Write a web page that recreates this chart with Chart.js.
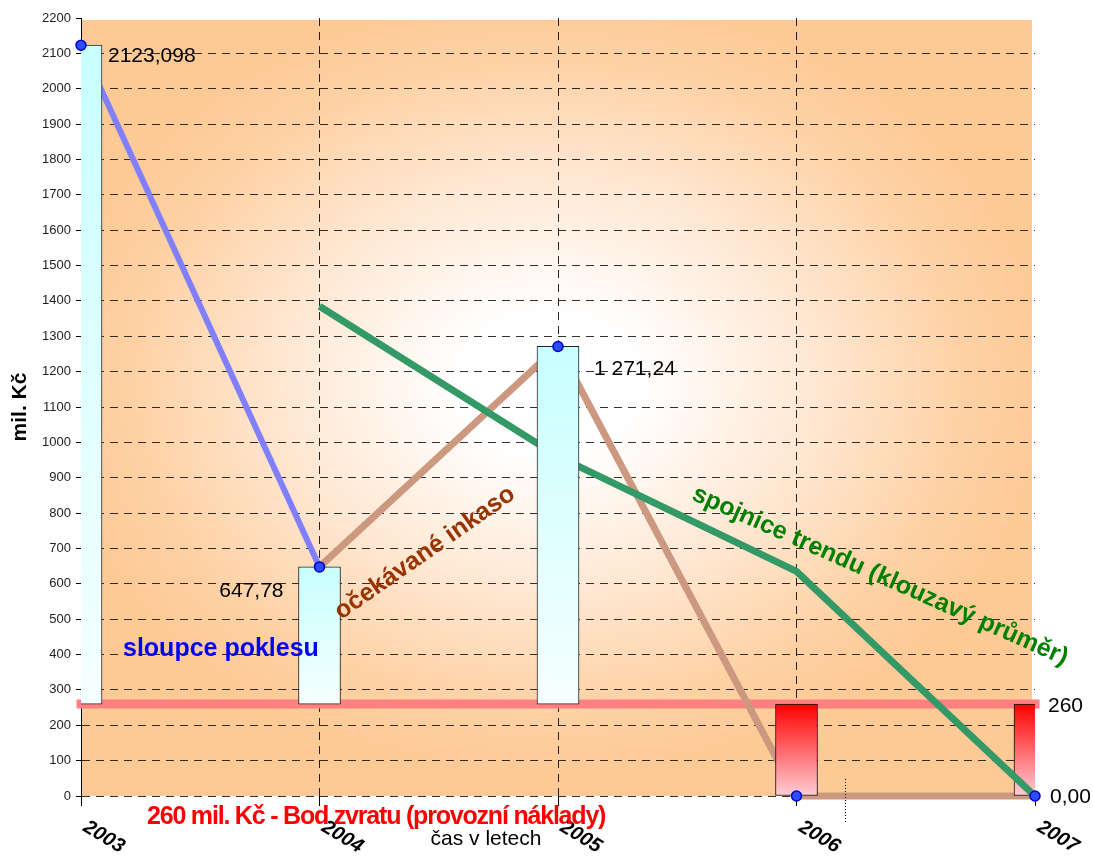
<!DOCTYPE html>
<html>
<head>
<meta charset="utf-8">
<title>Bod zvratu</title>
<script src="https://cdn.jsdelivr.net/npm/chart.js@4.4.1/dist/chart.umd.min.js"></script>
<style>
  html, body { margin: 0; padding: 0; background: #ffffff; }
  #wrap { width: 1094px; height: 856px; }
</style>
</head>
<body>
<div id="wrap"><canvas id="c" width="1094" height="856"></canvas></div>
<script>
// Years on the time axis
const years = ['2003', '2004', '2005', '2006', '2007'];

// Decline columns (from the break-even level up to the value), mil. Kč
const declineTop = [2123.098, 647.78, 1271.24, null, null];
// Break-even / operating costs level, mil. Kč
const breakEven = 260;
// Columns below the break-even level (2006, 2007)
const belowTop = [null, null, null, 260, 260];
const belowBase = 0;

// Lines
const declineLine = [2123.098, 647.78, null, null, null];      // sloupce poklesu
const expectedIncome = [null, 647.78, 1271.24, 0, 0];          // očekávané inkaso
const movingAverage = [null, 1385, 960, 635, 0];               // spojnice trendu
const markerValues = [2123.098, 647.78, 1271.24, 0, 0];        // marked points

// Y axis range
const yMin = 0, yMax = 2200, yStep = 100;

// Number format per marked point: decimals and thousands grouping
const markerFormats = [
  { dec: 3, group: false },
  { dec: 2, group: false },
  { dec: 2, group: true },
  null,
  { dec: 2, group: false }
];

function formatCz(v, dec, group) {
  const parts = v.toFixed(dec).split('.');
  let int = parts[0];
  if (group) int = int.replace(/\B(?=(\d{3})+(?!\d))/g, ' ');
  return parts.length > 1 ? int + ',' + parts[1] : int;
}

const FONT = 'Arial, "Liberation Sans", sans-serif';

function columnGradient(ctx, topColor, bottomColor) {
  const chart = ctx.chart;
  if (!chart.chartArea || !Array.isArray(ctx.raw)) return topColor;
  const y = chart.scales.y;
  const top = y.getPixelForValue(Math.max(ctx.raw[0], ctx.raw[1]));
  const bottom = y.getPixelForValue(Math.min(ctx.raw[0], ctx.raw[1]));
  const g = chart.ctx.createLinearGradient(0, top, 0, bottom);
  g.addColorStop(0, topColor);
  g.addColorStop(1, bottomColor);
  return g;
}

// Plot-area background: pale centre fading to orange
const plotBackground = {
  id: 'plotBackground',
  beforeDraw(chart) {
    const { ctx, chartArea: a } = chart;
    const cx = a.left + (a.right - a.left) * 0.49;
    const cy = a.top + (a.bottom - a.top) * 0.47;
    const rx = 500, ry = 390;
    ctx.save();
    ctx.beginPath();
    ctx.rect(a.left, a.top + 2, a.right - a.left - 3, a.bottom - a.top - 2);
    ctx.clip();
    ctx.translate(cx, cy);
    ctx.scale(1, ry / rx);
    const g = ctx.createRadialGradient(0, 0, 0, 0, 0, rx);
    g.addColorStop(0, '#ffffff');
    g.addColorStop(0.18, '#ffffff');
    g.addColorStop(0.55, '#ffe6d0');
    g.addColorStop(0.85, '#fed0a2');
    g.addColorStop(1, '#fdca96');
    ctx.fillStyle = g;
    ctx.fillRect(-cx, -cy * rx / ry, chart.width, chart.height * rx / ry);
    ctx.restore();
  }
};

// Texts: value labels, axis titles, year labels and captions
const chartTexts = {
  id: 'chartTexts',
  afterDatasetsDraw(chart) {
    const { ctx, chartArea: a, scales } = chart;
    const markerMeta = chart.getDatasetMeta(chart.data.datasets.findIndex(d => d.label === 'body'));
    ctx.save();

    // value labels at the marked points
    ctx.fillStyle = '#000';
    ctx.font = '21px ' + FONT;
    ctx.textBaseline = 'middle';
    const offs = [[27, 11, 'left'], [-36, 24, 'right'], [36, 23, 'left'], null, [15, 1, 'left']];
    markerValues.forEach((v, i) => {
      const f = markerFormats[i];
      if (!f) return;
      const p = markerMeta.data[i];
      ctx.textAlign = offs[i][2];
      ctx.fillText(formatCz(v, f.dec, f.group), p.x + offs[i][0], p.y + offs[i][1]);
    });
    // break-even value at the end of its line
    ctx.textAlign = 'left';
    ctx.fillText(String(breakEven), a.right + 13, scales.y.getPixelForValue(breakEven) + 2);

    // y axis title
    ctx.save();
    ctx.translate(20, (a.top + a.bottom) / 2);
    ctx.rotate(-Math.PI / 2);
    ctx.font = 'bold 21px ' + FONT;
    ctx.textAlign = 'center';
    ctx.textBaseline = 'middle';
    ctx.fillText('mil. Kč', 0, 0);
    ctx.restore();

    // year labels, slanted
    ctx.font = 'italic bold 20px ' + FONT;
    ctx.textAlign = 'left';
    ctx.textBaseline = 'top';
    years.forEach((yr, i) => {
      const x = scales.x.getPixelForValue(i);
      ctx.save();
      ctx.translate(x + 9, a.bottom + 21);
      ctx.rotate(31 * Math.PI / 180);
      ctx.fillText(yr, 0, 0);
      ctx.restore();
    });

    // x axis title
    ctx.font = '21px ' + FONT;
    ctx.textAlign = 'center';
    ctx.textBaseline = 'middle';
    ctx.fillStyle = '#000';
    ctx.fillText('čas v letech', 486, 839);

    // break-even caption
    ctx.font = 'bold 25px ' + FONT;
    ctx.fillStyle = '#ff0000';
    ctx.textAlign = 'left';
    if ('letterSpacing' in ctx) ctx.letterSpacing = '-1.2px';
    ctx.fillText('260 mil. Kč - Bod zvratu (provozní náklady)', 147, 817);
    if ('letterSpacing' in ctx) ctx.letterSpacing = '0px';

    // series captions
    ctx.fillStyle = '#0000ff';
    ctx.fillText('sloupce poklesu', 123, 649);

    ctx.save();
    ctx.translate(425, 553);
    ctx.rotate(-35 * Math.PI / 180);
    ctx.fillStyle = '#993300';
    ctx.textAlign = 'center';
    ctx.fillText('očekávané inkaso', 0, 0);
    ctx.restore();

    ctx.save();
    ctx.translate(880, 576);
    ctx.rotate(24 * Math.PI / 180);
    ctx.fillStyle = '#008000';
    ctx.textAlign = 'center';
    ctx.fillText('spojnice trendu (klouzavý průměr)', 0, 0);
    ctx.restore();

    // short dotted mark below 2006
    ctx.strokeStyle = '#000';
    ctx.lineWidth = 1;
    ctx.setLineDash([1, 2]);
    ctx.beginPath();
    ctx.moveTo(845.5, 779);
    ctx.lineTo(845.5, 822);
    ctx.stroke();

    ctx.restore();
  }
};

new Chart(document.getElementById('c'), {
  type: 'line',
  data: {
    labels: years,
    datasets: [
      {
        label: 'body',
        data: markerValues,
        showLine: false,
        pointRadius: 5,
        pointBackgroundColor: '#2b4dff',
        pointBorderColor: '#0000cc',
        pointBorderWidth: 1.5,
        clip: false,
        order: 0
      },
      {
        type: 'bar',
        label: 'sloupce poklesu',
        data: declineTop.map(v => v === null ? null : [breakEven, v]),
        grouped: false,
        barThickness: 42,
        borderWidth: 1,
        borderColor: '#222',
        borderSkipped: false,
        backgroundColor: c => columnGradient(c, '#c8ffff', '#f6ffff'),
        clip: 0,
        order: 1
      },
      {
        label: 'spojnice trendu',
        data: movingAverage,
        borderColor: '#339966',
        borderWidth: 7,
        pointRadius: 0,
        tension: 0,
        order: 2
      },
      {
        type: 'bar',
        label: 'pod bodem zvratu',
        data: belowTop.map(v => v === null ? null : [belowBase, v]),
        grouped: false,
        barThickness: 42,
        borderWidth: 1,
        borderColor: '#111',
        borderSkipped: false,
        backgroundColor: c => columnGradient(c, '#ff0000', '#ffcfd6'),
        clip: 0,
        order: 3
      },
      {
        label: 'pokles',
        data: declineLine,
        borderColor: '#8080ff',
        borderWidth: 6,
        pointRadius: 0,
        tension: 0,
        order: 4
      },
      {
        label: 'očekávané inkaso',
        data: expectedIncome,
        borderColor: '#cc9980',
        borderWidth: 7,
        pointRadius: 0,
        tension: 0,
        clip: false,
        order: 5
      },
      {
        label: 'bod zvratu',
        data: years.map(() => breakEven),
        borderColor: '#ff8080',
        borderWidth: 9,
        borderCapStyle: 'square',
        pointRadius: 0,
        tension: 0,
        clip: false,
        order: 6
      }
    ]
  },
  options: {
    responsive: false,
    animation: false,
    events: [],
    layout: { padding: { top: 18, right: 59, left: 0, bottom: 0 } },
    plugins: { legend: { display: false }, tooltip: { enabled: false } },
    scales: {
      x: {
        type: 'category',
        offset: false,
        grid: {
          offset: false,
          color: c => (c.index === 0 || c.index === years.length - 1) ? 'rgba(0,0,0,0)' : 'rgba(0,0,0,0.85)',
          lineWidth: 1,
          tickLength: 10,
          tickColor: '#000',
          tickBorderDash: []
        },
        border: { display: false, dash: [8, 6] },
        ticks: { display: false },
        afterFit(scale) { scale.height = 60; }
      },
      y: {
        min: yMin,
        max: yMax,
        grid: {
          color: c => (c.tick && c.tick.value === yMax) ? 'rgba(0,0,0,0)' : 'rgba(0,0,0,0.8)',
          lineWidth: 1,
          tickLength: 5,
          tickColor: '#000',
          tickBorderDash: []
        },
        border: { display: true, color: '#000', width: 1, dash: [8, 6] },
        ticks: {
          stepSize: yStep,
          color: '#222',
          padding: 5,
          font: { family: FONT, size: 13 },
          callback: v => String(v)
        },
        afterFit(scale) { scale.width = 81; }
      }
    }
  },
  plugins: [plotBackground, chartTexts]
});
</script>
</body>
</html>
